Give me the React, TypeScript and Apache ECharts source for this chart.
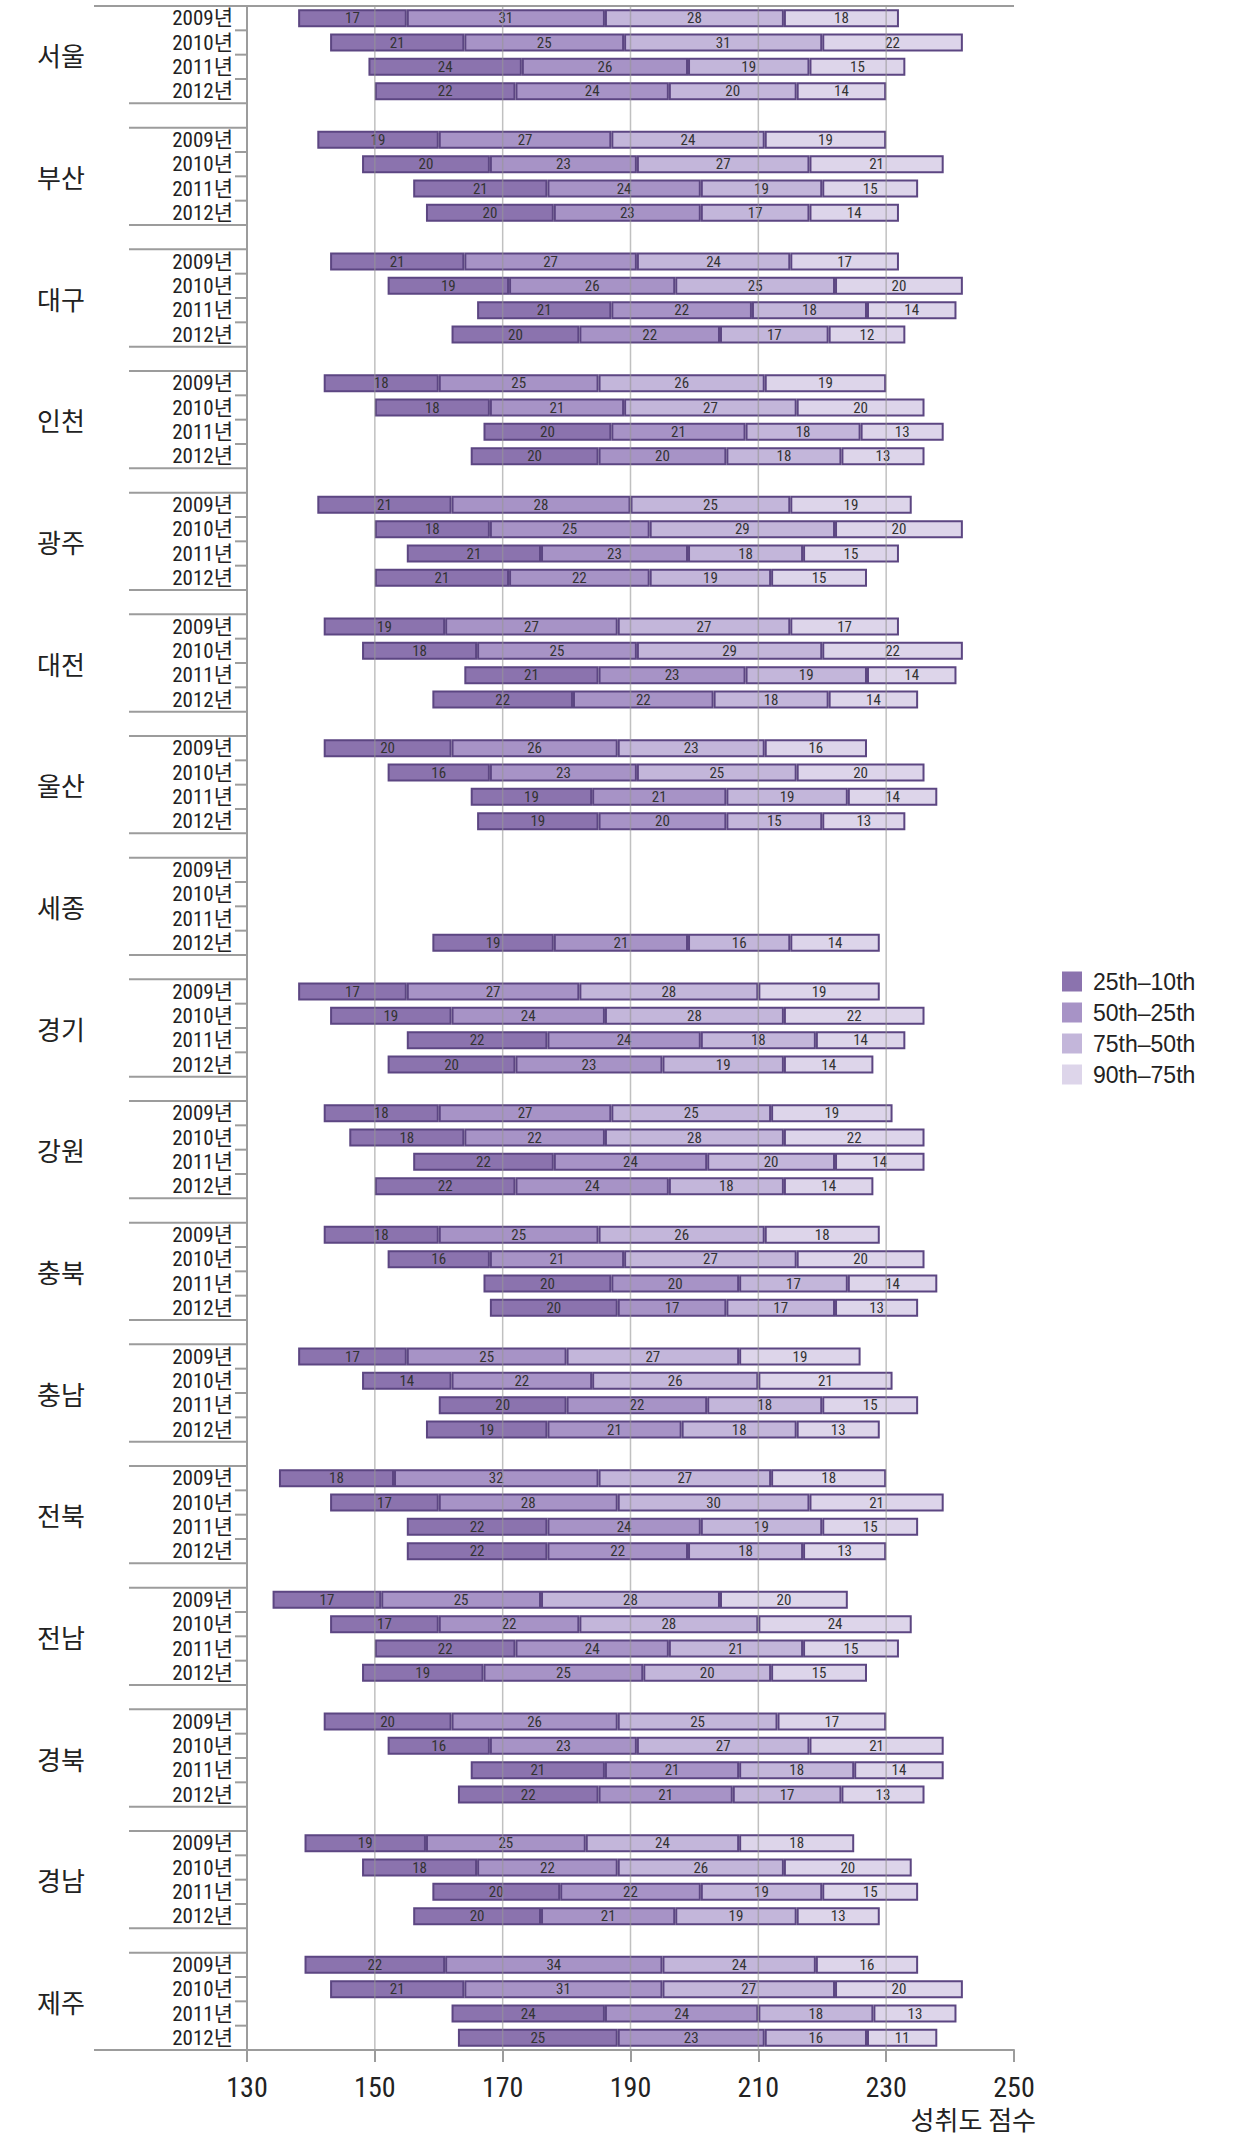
import React, { useEffect, useRef } from "react";
import * as echarts from "echarts";

const regions = ["서울", "부산", "대구", "인천", "광주", "대전", "울산", "세종", "경기", "강원", "충북", "충남", "전북", "전남", "경북", "경남", "제주"];
const years = ["2009년", "2010년", "2011년", "2012년"];
const legendNames = ["25th–10th", "50th–25th", "75th–50th", "90th–75th"];
const xGridValues = [150, 170, 190, 210, 230];
const axisTitle = "성취도 점수";

// 10th percentile (bar start), per region 2009..2012
const p10Start = [
  138, 143, 149, 150,
  141, 148, 156, 158,
  143, 152, 166, 162,
  142, 150, 167, 165,
  141, 150, 155, 150,
  142, 148, 164, 159,
  142, 152, 165, 166,
  null, null, null, 159,
  138, 143, 155, 152,
  142, 146, 156, 150,
  142, 152, 167, 168,
  138, 148, 160, 158,
  135, 143, 155, 155,
  134, 143, 150, 148,
  142, 152, 165, 163,
  139, 148, 159, 156,
  139, 143, 162, 163,
];
const seg25_10 = [
  17, 21, 24, 22,
  19, 20, 21, 20,
  21, 19, 21, 20,
  18, 18, 20, 20,
  21, 18, 21, 21,
  19, 18, 21, 22,
  20, 16, 19, 19,
  null, null, null, 19,
  17, 19, 22, 20,
  18, 18, 22, 22,
  18, 16, 20, 20,
  17, 14, 20, 19,
  18, 17, 22, 22,
  17, 17, 22, 19,
  20, 16, 21, 22,
  19, 18, 20, 20,
  22, 21, 24, 25,
];
const seg50_25 = [
  31, 25, 26, 24,
  27, 23, 24, 23,
  27, 26, 22, 22,
  25, 21, 21, 20,
  28, 25, 23, 22,
  27, 25, 23, 22,
  26, 23, 21, 20,
  null, null, null, 21,
  27, 24, 24, 23,
  27, 22, 24, 24,
  25, 21, 20, 17,
  25, 22, 22, 21,
  32, 28, 24, 22,
  25, 22, 24, 25,
  26, 23, 21, 21,
  25, 22, 22, 21,
  34, 31, 24, 23,
];
const seg75_50 = [
  28, 31, 19, 20,
  24, 27, 19, 17,
  24, 25, 18, 17,
  26, 27, 18, 18,
  25, 29, 18, 19,
  27, 29, 19, 18,
  23, 25, 19, 15,
  null, null, null, 16,
  28, 28, 18, 19,
  25, 28, 20, 18,
  26, 27, 17, 17,
  27, 26, 18, 18,
  27, 30, 19, 18,
  28, 28, 21, 20,
  25, 27, 18, 17,
  24, 26, 19, 19,
  24, 27, 18, 16,
];
const seg90_75 = [
  18, 22, 15, 14,
  19, 21, 15, 14,
  17, 20, 14, 12,
  19, 20, 13, 13,
  19, 20, 15, 15,
  17, 22, 14, 14,
  16, 20, 14, 13,
  null, null, null, 14,
  19, 22, 14, 14,
  19, 22, 14, 14,
  18, 20, 14, 13,
  19, 21, 15, 13,
  18, 21, 15, 13,
  20, 24, 15, 15,
  17, 21, 14, 13,
  18, 20, 15, 13,
  16, 20, 13, 11,
];

const segColors = ["#8b73ae", "#a793c6", "#c3b6da", "#ddd5ea"];
const barBorder = "#5c4682";
const lineGrey = "#9c9c9c";
const numFont = "'Liberation Sans Narrow', 'Roboto Condensed', 'DejaVu Sans Condensed', Roboto, 'Noto Sans CJK KR', sans-serif";
const krFont = "'Noto Sans CJK KR', sans-serif";

export default function App() {
  const ref = useRef<HTMLDivElement>(null);

  useEffect(() => {
    document.body.style.margin = "0";
    if (!ref.current) return;
    const chart = echarts.init(ref.current, undefined, { renderer: "svg" });

    // Build row layout: 4 years per region, blank separator row between regions
    const rowLabels: string[] = [];
    const rowSrc: (number | null)[] = [];
    regions.forEach((_, g) => {
      years.forEach((y, k) => {
        rowLabels.push(y);
        rowSrc.push(g * 4 + k);
      });
      if (g < regions.length - 1) {
        rowLabels.push("");
        rowSrc.push(null);
      }
    });
    const nRows = rowLabels.length;
    const pick = (arr: (number | null)[]) =>
      rowSrc.map((s) => (s === null || arr[s] === null ? "-" : arr[s]));

    const segArrays = [seg25_10, seg50_25, seg75_50, seg90_75];

    // frame lines: [x, rowIdx, kind, side]; kind 0 full line, 1 separator, 2 short tick
    const frameData: number[][] = [];
    regions.forEach((_, g) => {
      const base = g * 5;
      frameData.push([130, base, g === 0 ? 0 : 1, -1]);
      for (let k = 0; k < 3; k++) frameData.push([130, base + k, 2, 1]);
      frameData.push([130, base + 3, g === regions.length - 1 ? 0 : 1, 1]);
    });

    const regionData = regions.map((_, g) => [130, g * 5 + 1, g]);
    const vgridData = xGridValues.map((v) => [v, 0]);

    const series: any[] = [
      {
        name: "base",
        type: "bar",
        stack: "s",
        barWidth: 18,
        silent: true,
        itemStyle: { color: "transparent" },
        data: pick(p10Start),
      },
      ...segArrays.map((arr, i) => ({
        name: legendNames[i],
        type: "bar",
        stack: "s",
        barWidth: 18,
        itemStyle: { color: segColors[i], borderColor: barBorder, borderWidth: 2 },
        label: {
          show: true,
          position: "inside",
          fontSize: 15,
          color: "#333",
          fontFamily: numFont,
          formatter: (p: any) => String(p.value),
        },
        data: pick(arr),
      })),
      {
        name: "vgrid",
        type: "custom",
        z: 10,
        silent: true,
        clip: false,
        data: vgridData,
        renderItem: (params: any, api: any) => {
          const cs = params.coordSys;
          const c = api.coord([api.value(0), 0]);
          return {
            type: "line",
            shape: { x1: c[0], y1: cs.y, x2: c[0], y2: cs.y + cs.height },
            style: { stroke: "rgba(150,150,150,0.6)", lineWidth: 1.5 },
          };
        },
      },
      {
        name: "frame",
        type: "custom",
        z: 11,
        silent: true,
        clip: false,
        data: frameData,
        renderItem: (params: any, api: any) => {
          const cs = params.coordSys;
          const band = cs.height / nRows;
          const idx = api.value(1);
          const kind = api.value(2);
          const side = api.value(3);
          const c = api.coord([130, idx]);
          const y = c[1] + (side * band) / 2;
          let x1 = cs.x - 12;
          let x2 = cs.x;
          if (kind === 0) {
            x1 = 94;
            x2 = cs.x + cs.width;
          } else if (kind === 1) {
            x1 = cs.x - 118;
          }
          return {
            type: "line",
            shape: { x1, y1: y, x2, y2: y },
            style: { stroke: lineGrey, lineWidth: 2 },
          };
        },
      },
      {
        name: "regions",
        type: "custom",
        z: 11,
        silent: true,
        clip: false,
        data: regionData,
        renderItem: (params: any, api: any) => {
          const cs = params.coordSys;
          const band = cs.height / nRows;
          const c = api.coord([130, api.value(1)]);
          return {
            type: "text",
            x: cs.x - 186,
            y: c[1] + band / 2,
            style: {
              text: regions[api.value(2)],
              fontSize: 26,
              fontFamily: krFont,
              fill: "#222",
              align: "center",
              verticalAlign: "middle",
            },
          };
        },
      },
    ];

    chart.setOption({
      animation: false,
      backgroundColor: "#ffffff",
      grid: { left: 247, right: 226, top: 6, bottom: 88, containLabel: false },
      legend: {
        data: legendNames,
        orient: "vertical",
        left: 1062,
        top: 970,
        padding: 0,
        itemWidth: 20,
        itemHeight: 20,
        itemGap: 8,
        icon: "rect",
        itemStyle: { borderWidth: 0 },
        textStyle: { fontSize: 23, color: "#222", fontFamily: "'Liberation Sans', Arial, sans-serif", padding: [0, 0, 0, 6] },
        selectedMode: false,
      },
      xAxis: {
        type: "value",
        min: 130,
        max: 250,
        interval: 20,
        axisLine: { show: true, lineStyle: { color: lineGrey, width: 2 } },
        axisTick: { show: true, length: 12, lineStyle: { color: lineGrey, width: 2 } },
        axisLabel: { fontSize: 28, color: "#222", margin: 23, fontFamily: numFont },
        splitLine: { show: false },
      },
      yAxis: {
        type: "category",
        inverse: true,
        data: rowLabels,
        axisLine: { show: true, lineStyle: { color: lineGrey, width: 2 } },
        axisTick: { show: false },
        axisLabel: { fontSize: 21, color: "#222", margin: 14, fontFamily: numFont, interval: 0 },
        splitLine: { show: false },
      },
      graphic: [
        {
          type: "text",
          x: 1036,
          y: 2118,
          style: {
            text: axisTitle,
            fontSize: 26,
            fontFamily: krFont,
            fill: "#222",
            align: "right",
            verticalAlign: "middle",
          },
        },
      ],
      series,
    });

    return () => chart.dispose();
  }, []);

  return (
    <div
      ref={ref}
      style={{ position: "absolute", left: 0, top: 0, width: 1240, height: 2138 }}
    />
  );
}
